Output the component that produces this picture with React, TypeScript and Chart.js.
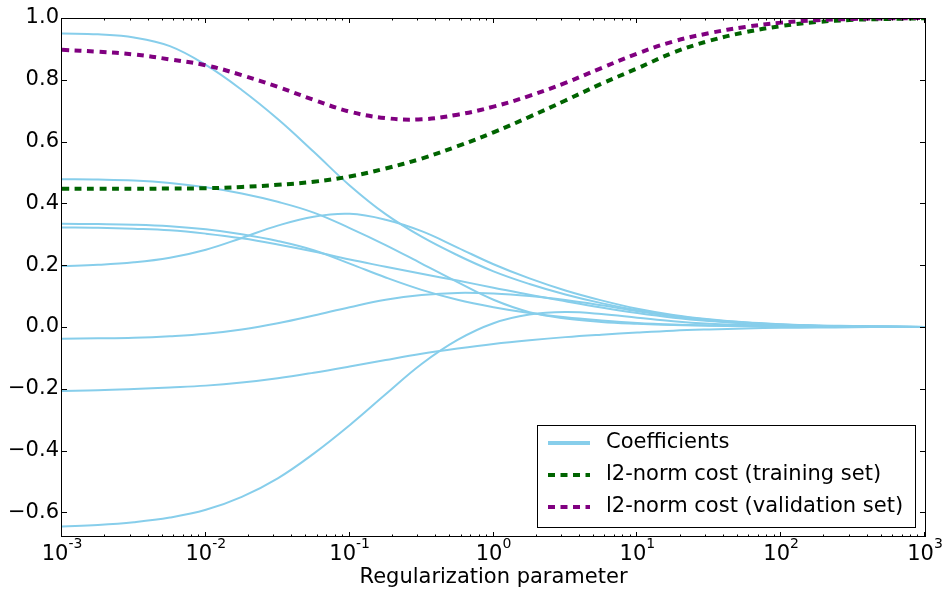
import React, { useEffect, useRef } from 'react';
import Chart from 'chart.js/auto';

// log10 of the regularization parameter (x positions of the sampled curves)
const logLambda = [-3, -2.75, -2.5, -2.25, -2, -1.75, -1.5, -1.25, -1, -0.75, -0.5, -0.25, 0, 0.25, 0.5, 0.75, 1, 1.25, 1.5, 1.75, 2, 2.25, 2.5, 2.75, 3];

// coefficient paths
const coef1 = [0.950, 0.947, 0.937, 0.909, 0.848, 0.767, 0.673, 0.567, 0.458, 0.365, 0.292, 0.232, 0.180, 0.139, 0.105, 0.077, 0.054, 0.036, 0.023, 0.014, 0.008, 0.004, 0.002, 0.001, 0.000];
const coef2 = [0.478, 0.477, 0.474, 0.466, 0.452, 0.432, 0.405, 0.370, 0.320, 0.265, 0.205, 0.145, 0.088, 0.048, 0.027, 0.016, 0.010, 0.006, 0.004, 0.002, 0.001, 0.001, 0.000, 0.000, 0.000];
const coef3 = [0.334, 0.333, 0.331, 0.326, 0.316, 0.300, 0.278, 0.248, 0.205, 0.160, 0.120, 0.088, 0.064, 0.045, 0.031, 0.021, 0.013, 0.008, 0.005, 0.003, 0.002, 0.001, 0.000, 0.000, 0.000];
const coef4 = [0.322, 0.321, 0.318, 0.313, 0.302, 0.287, 0.267, 0.244, 0.218, 0.195, 0.172, 0.150, 0.127, 0.104, 0.083, 0.063, 0.045, 0.030, 0.019, 0.011, 0.006, 0.003, 0.002, 0.001, 0.000];
const coef5 = [0.197, 0.201, 0.209, 0.224, 0.250, 0.288, 0.328, 0.357, 0.366, 0.347, 0.310, 0.257, 0.203, 0.157, 0.118, 0.086, 0.059, 0.039, 0.025, 0.015, 0.009, 0.005, 0.003, 0.001, 0.000];
const coef6 = [-0.038, -0.037, -0.035, -0.030, -0.022, -0.008, 0.012, 0.037, 0.064, 0.088, 0.103, 0.110, 0.108, 0.100, 0.087, 0.070, 0.051, 0.034, 0.021, 0.012, 0.007, 0.004, 0.002, 0.001, 0.000];
const coef7 = [-0.207, -0.205, -0.201, -0.196, -0.190, -0.180, -0.166, -0.148, -0.128, -0.107, -0.087, -0.070, -0.055, -0.043, -0.033, -0.025, -0.018, -0.012, -0.008, -0.005, -0.003, -0.002, -0.001, 0.000, 0.000];
const coef8 = [-0.646, -0.641, -0.632, -0.617, -0.592, -0.550, -0.490, -0.410, -0.318, -0.218, -0.120, -0.042, 0.012, 0.040, 0.048, 0.042, 0.030, 0.018, 0.010, 0.006, 0.003, 0.002, 0.001, 0.000, 0.000];
const coefficientSeries = [coef1, coef2, coef3, coef4, coef5, coef6, coef7, coef8];

// costs
const trainCost = [0.447, 0.447, 0.447, 0.448, 0.449, 0.453, 0.460, 0.470, 0.487, 0.513, 0.545, 0.585, 0.630, 0.680, 0.733, 0.787, 0.837, 0.888, 0.926, 0.954, 0.974, 0.987, 0.994, 0.997, 0.999];
const validCost = [0.897, 0.891, 0.882, 0.866, 0.847, 0.815, 0.777, 0.735, 0.697, 0.676, 0.672, 0.687, 0.713, 0.748, 0.790, 0.838, 0.885, 0.924, 0.951, 0.971, 0.985, 0.993, 0.997, 0.999, 1.000];

const yTickValues = [-0.6, -0.4, -0.2, 0.0, 0.2, 0.4, 0.6, 0.8, 1.0];
const xDecadeExponents = [-3, -2, -1, 0, 1, 2, 3];
const legendLabels = ['Coefficients', 'l2-norm cost (training set)', 'l2-norm cost (validation set)'];
const xAxisTitle = 'Regularization parameter';

const BLUE = '#87CEEB';
const GREEN = '#006400';
const PURPLE = '#800080';
const FONT = "'DejaVu Sans'";
const DASH = [7, 5.5];

const toPoints = (vals: number[]) => vals.map((v, i) => ({ x: Math.pow(10, logLambda[i]), y: v }));

const decorPlugin = {
  id: 'decor',
  afterDatasetsDraw(chart: any) {
    const { ctx, chartArea: a, scales } = chart;
    const xs = scales.x;
    const ys = scales.y;
    ctx.save();
    ctx.strokeStyle = '#000';
    ctx.lineWidth = 1;
    ctx.setLineDash([]);
    // frame
    ctx.strokeRect(Math.round(a.left) - 0.5, Math.round(a.top) + 0.5, Math.round(a.right - a.left) + 1, Math.round(a.bottom - a.top) - 1);
    // inward ticks
    ctx.beginPath();
    for (const e of xDecadeExponents) {
      const px = Math.round(xs.getPixelForValue(Math.pow(10, e))) - 0.5;
      ctx.moveTo(px, a.bottom); ctx.lineTo(px, a.bottom - 5);
      ctx.moveTo(px, a.top); ctx.lineTo(px, a.top + 5);
      if (e < 3) {
        for (let m = 2; m <= 9; m++) {
          const mx = Math.round(xs.getPixelForValue(m * Math.pow(10, e))) - 0.5;
          ctx.moveTo(mx, a.bottom); ctx.lineTo(mx, a.bottom - 2.5);
          ctx.moveTo(mx, a.top); ctx.lineTo(mx, a.top + 2.5);
        }
      }
    }
    for (const v of yTickValues) {
      const py = Math.round(ys.getPixelForValue(v)) + 0.5;
      ctx.moveTo(a.left, py); ctx.lineTo(a.left + 5, py);
      ctx.moveTo(a.right, py); ctx.lineTo(a.right - 5, py);
    }
    ctx.stroke();

    // x tick labels with superscript exponents
    ctx.fillStyle = '#000';
    ctx.textBaseline = 'alphabetic';
    ctx.textAlign = 'left';
    for (const e of xDecadeExponents) {
      const px = xs.getPixelForValue(Math.pow(10, e));
      const sup = e < 0 ? '-' + String(-e) : String(e);
      ctx.font = `21px ${FONT}`;
      const w1 = ctx.measureText('10').width;
      ctx.font = `14px ${FONT}`;
      const w2 = ctx.measureText(sup).width;
      const x0 = px - (w1 + w2) / 2;
      ctx.font = `21px ${FONT}`;
      ctx.fillText('10', x0, a.bottom + 23);
      ctx.font = `14px ${FONT}`;
      ctx.fillText(sup, x0 + w1, a.bottom + 11);
    }

    // legend box
    const lw = 378, lh = 102;
    const lx = Math.round(a.right) - 10 - lw;
    const ly = Math.round(a.bottom) - 10 - lh;
    ctx.fillStyle = '#fff';
    ctx.fillRect(lx, ly, lw, lh);
    ctx.strokeStyle = '#000';
    ctx.lineWidth = 1;
    ctx.strokeRect(lx + 0.5, ly + 0.5, lw, lh);
    const colors = [BLUE, GREEN, PURPLE];
    ctx.font = `21px ${FONT}`;
    ctx.textBaseline = 'middle';
    legendLabels.forEach((label, i) => {
      const cy = ly + 18 + i * 32;
      ctx.beginPath();
      ctx.strokeStyle = colors[i];
      ctx.lineWidth = 4;
      ctx.setLineDash(i === 0 ? [] : DASH);
      ctx.moveTo(lx + 11, cy);
      ctx.lineTo(lx + 53, cy);
      ctx.stroke();
      ctx.setLineDash([]);
      ctx.fillStyle = '#000';
      ctx.fillText(label, lx + 69, cy);
    });
    ctx.restore();
  },
};

export default function App() {
  const canvasRef = useRef<HTMLCanvasElement | null>(null);

  useEffect(() => {
    const canvas = canvasRef.current;
    if (!canvas) return;
    Chart.defaults.font.family = FONT;

    const datasets: any[] = coefficientSeries.map((vals, i) => ({
      label: i === 0 ? legendLabels[0] : `_coef${i}`,
      data: toPoints(vals),
      borderColor: BLUE,
      backgroundColor: BLUE,
      borderWidth: 2,
      pointRadius: 0,
      fill: false,
      tension: 0.4,
      order: 2,
      clip: 0,
    }));
    datasets.push({
      label: legendLabels[1],
      data: toPoints(trainCost),
      borderColor: GREEN,
      borderWidth: 4,
      borderDash: DASH,
      pointRadius: 0,
      fill: false,
      tension: 0.4,
      order: 1,
      clip: 0,
    });
    datasets.push({
      label: legendLabels[2],
      data: toPoints(validCost),
      borderColor: PURPLE,
      borderWidth: 4,
      borderDash: DASH,
      pointRadius: 0,
      fill: false,
      tension: 0.4,
      order: 0,
      clip: 0,
    });

    const chart = new Chart(canvas, {
      type: 'line',
      data: { datasets },
      plugins: [decorPlugin],
      options: {
        animation: false,
        responsive: false,
        devicePixelRatio: 1,
        layout: { padding: { top: 18, right: 18, left: 0, bottom: 0 } },
        plugins: { legend: { display: false }, tooltip: { enabled: false } },
        scales: {
          x: {
            type: 'logarithmic',
            min: 0.001,
            max: 1000,
            grid: { display: false, drawTicks: false },
            border: { display: false },
            ticks: { display: false },
            title: {
              display: true,
              text: xAxisTitle,
              color: '#000',
              font: { size: 21, family: FONT },
              padding: { top: 0, bottom: 1 },
            },
            afterFit: (s: any) => { s.height = 54; },
          },
          y: {
            type: 'linear',
            min: -0.68,
            max: 1.0,
            grid: { display: false, drawTicks: false },
            border: { display: false },
            afterBuildTicks: (s: any) => { s.ticks = yTickValues.map((v) => ({ value: v })); },
            ticks: {
              color: '#000',
              padding: 3,
              font: { size: 21, family: FONT },
              callback: (v: any) => Number(v).toFixed(1).replace('-', '\u2212'),
            },
            afterFit: (s: any) => { s.width = 62; },
          },
        },
      },
    });
    return () => chart.destroy();
  }, []);

  return (
    <div style={{ position: 'fixed', left: 0, top: 0, width: 943, height: 591, background: '#fff' }}>
      <canvas ref={canvasRef} width={943} height={591} style={{ width: 943, height: 591, display: 'block' }} />
    </div>
  );
}
